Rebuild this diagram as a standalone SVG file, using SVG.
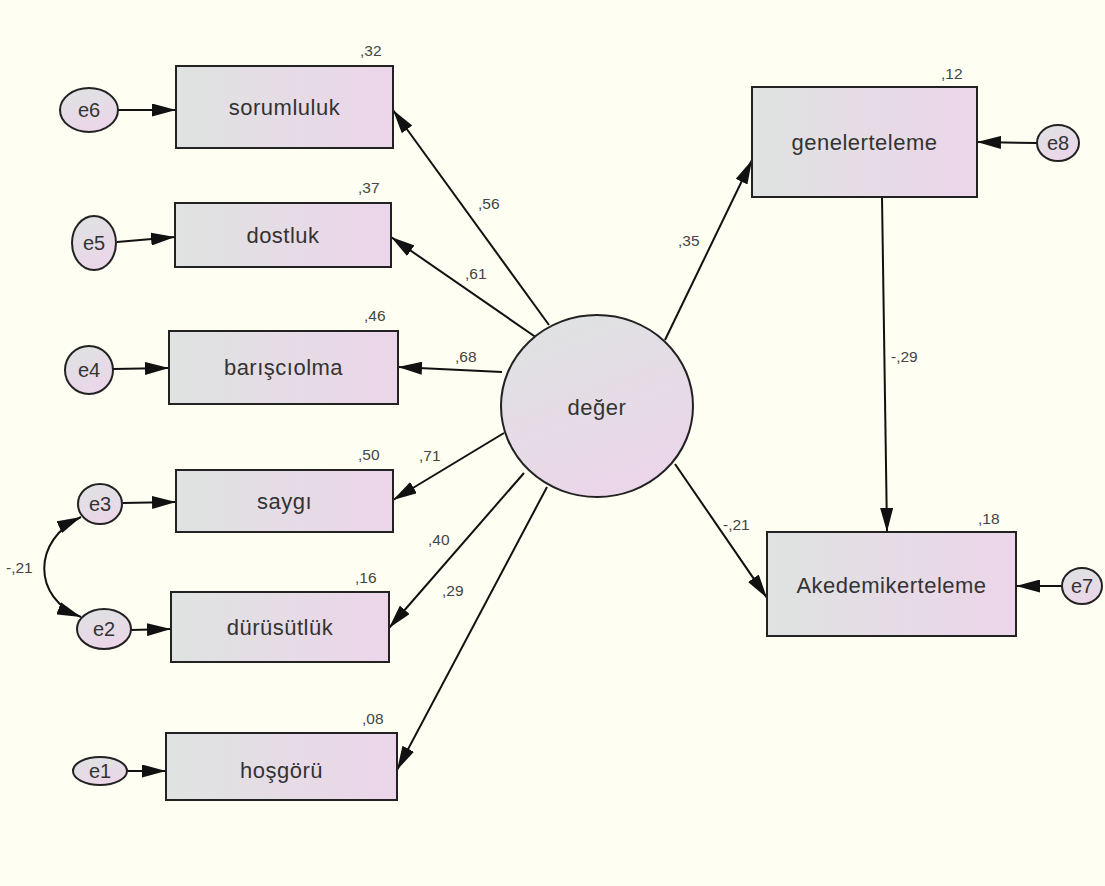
<svg xmlns="http://www.w3.org/2000/svg" width="1105" height="886" viewBox="0 0 1105 886">
<defs>
<linearGradient id="gbox" x1="0" y1="0" x2="1" y2="0">
<stop offset="0" stop-color="#dfe3e1"/>
<stop offset="1" stop-color="#ecd5ea"/>
</linearGradient>
<linearGradient id="gcirc" x1="0.3" y1="0" x2="0.7" y2="1">
<stop offset="0" stop-color="#dfe2e2"/>
<stop offset="1" stop-color="#ecd5ea"/>
</linearGradient>
<marker id="ah" markerUnits="userSpaceOnUse" markerWidth="24" markerHeight="13" refX="24" refY="6.5" orient="auto-start-reverse" viewBox="0 0 24 13">
<path d="M0,0 L24,6.5 L0,13 z" fill="#111"/>
</marker>
<style>
.box{fill:url(#gbox);stroke:#222;stroke-width:2}
.err{fill:url(#gcirc);stroke:#222;stroke-width:2}
.lat{fill:url(#gcirc);stroke:#222;stroke-width:2}
.nm{font-family:"Liberation Sans",Arial,sans-serif;font-size:22px;letter-spacing:0.5px;fill:#333;text-anchor:middle}
.en{font-family:"Liberation Sans",Arial,sans-serif;font-size:20px;fill:#333;text-anchor:middle}
.lb{font-family:"Liberation Sans",Arial,sans-serif;font-size:15.5px;fill:#444}
.ed{stroke:#111;stroke-width:2;fill:none;marker-end:url(#ah)}
</style>
</defs>
<rect width="1105" height="886" fill="#fefff2"/>

<g id="connectors">
<line class="ed" x1="549" y1="325" x2="393" y2="110"/>
<line class="ed" x1="537" y1="338" x2="391" y2="237"/>
<line class="ed" x1="502" y1="372" x2="398" y2="367"/>
<line class="ed" x1="504" y1="433" x2="393" y2="500"/>
<line class="ed" x1="524" y1="473" x2="389" y2="628"/>
<line class="ed" x1="547" y1="487" x2="397" y2="770"/>
<line class="ed" x1="665" y1="340" x2="752" y2="160"/>
<line class="ed" x1="675" y1="464" x2="767" y2="598"/>
<line class="ed" x1="882" y1="197" x2="887" y2="532"/>
<line class="ed" x1="1037" y1="143" x2="977" y2="142"/>
<line class="ed" x1="1062" y1="586" x2="1016" y2="586"/>
<line class="ed" x1="118" y1="110" x2="176" y2="110"/>
<line class="ed" x1="117" y1="242" x2="175" y2="237"/>
<line class="ed" x1="113" y1="369" x2="169" y2="368"/>
<line class="ed" x1="123" y1="503" x2="176" y2="502"/>
<line class="ed" x1="131" y1="630" x2="171" y2="629"/>
<line class="ed" x1="127" y1="771" x2="166" y2="771"/>
<path class="ed" style="marker-start:url(#ah)" d="M81,517 C32,540 32,598 81,617"/>
</g>

<g id="sorumluluk"><rect class="box" x="176" y="66" width="217" height="82"/><text class="nm" x="284.5" y="115">sorumluluk</text><text class="lb" x="360" y="56">,32</text></g>
<g id="dostluk"><rect class="box" x="175" y="203" width="216" height="64"/><text class="nm" x="283" y="243">dostluk</text><text class="lb" x="358" y="193">,37</text></g>
<g id="barisciolma"><rect class="box" x="169" y="331" width="229" height="73"/><text class="nm" x="283.5" y="375">barışcıolma</text><text class="lb" x="364" y="321">,46</text></g>
<g id="saygi"><rect class="box" x="176" y="470" width="217" height="62"/><text class="nm" x="284.5" y="509">saygı</text><text class="lb" x="358" y="460">,50</text></g>
<g id="durusutluk"><rect class="box" x="171" y="592" width="218" height="70"/><text class="nm" x="280" y="635">dürüsütlük</text><text class="lb" x="355" y="583">,16</text></g>
<g id="hosgoru"><rect class="box" x="166" y="733" width="231" height="67"/><text class="nm" x="281.5" y="778">hoşgörü</text><text class="lb" x="362" y="724">,08</text></g>
<g id="genelerteleme"><rect class="box" x="752" y="87" width="225" height="110"/><text class="nm" x="864.5" y="150">genelerteleme</text><text class="lb" x="941" y="79">,12</text></g>
<g id="akedemikerteleme"><rect class="box" x="767" y="532" width="249" height="104"/><text class="nm" x="891.5" y="593">Akedemikerteleme</text><text class="lb" x="978" y="524">,18</text></g>
<g id="deger"><ellipse class="lat" cx="597" cy="406" rx="96" ry="91"/><text class="nm" x="597" y="415">değer</text></g>

<g id="e6"><ellipse class="err" cx="89" cy="110" rx="29" ry="22"/><text class="en" x="89" y="117">e6</text></g>
<g id="e5"><ellipse class="err" cx="94" cy="243" rx="22" ry="27"/><text class="en" x="94" y="250">e5</text></g>
<g id="e4"><ellipse class="err" cx="89" cy="370" rx="24" ry="24"/><text class="en" x="89" y="377">e4</text></g>
<g id="e3"><ellipse class="err" cx="100" cy="504" rx="22" ry="20"/><text class="en" x="100" y="511">e3</text></g>
<g id="e2"><ellipse class="err" cx="104" cy="629" rx="27" ry="20"/><text class="en" x="104" y="636">e2</text></g>
<g id="e1"><ellipse class="err" cx="100" cy="771" rx="27" ry="14"/><text class="en" x="100" y="778">e1</text></g>
<g id="e8"><ellipse class="err" cx="1058" cy="143" rx="21" ry="18"/><text class="en" x="1058" y="150">e8</text></g>
<g id="e7"><ellipse class="err" cx="1082" cy="586" rx="20" ry="18"/><text class="en" x="1082" y="593">e7</text></g>

<g id="path-labels">
<text class="lb" x="478" y="209">,56</text>
<text class="lb" x="465" y="279">,61</text>
<text class="lb" x="455" y="362">,68</text>
<text class="lb" x="419" y="461">,71</text>
<text class="lb" x="428" y="545">,40</text>
<text class="lb" x="442" y="596">,29</text>
<text class="lb" x="678" y="246">,35</text>
<text class="lb" x="891" y="362">-,29</text>
<text class="lb" x="723" y="530">-,21</text>
<text class="lb" x="6" y="573">-,21</text>
</g>
</svg>
